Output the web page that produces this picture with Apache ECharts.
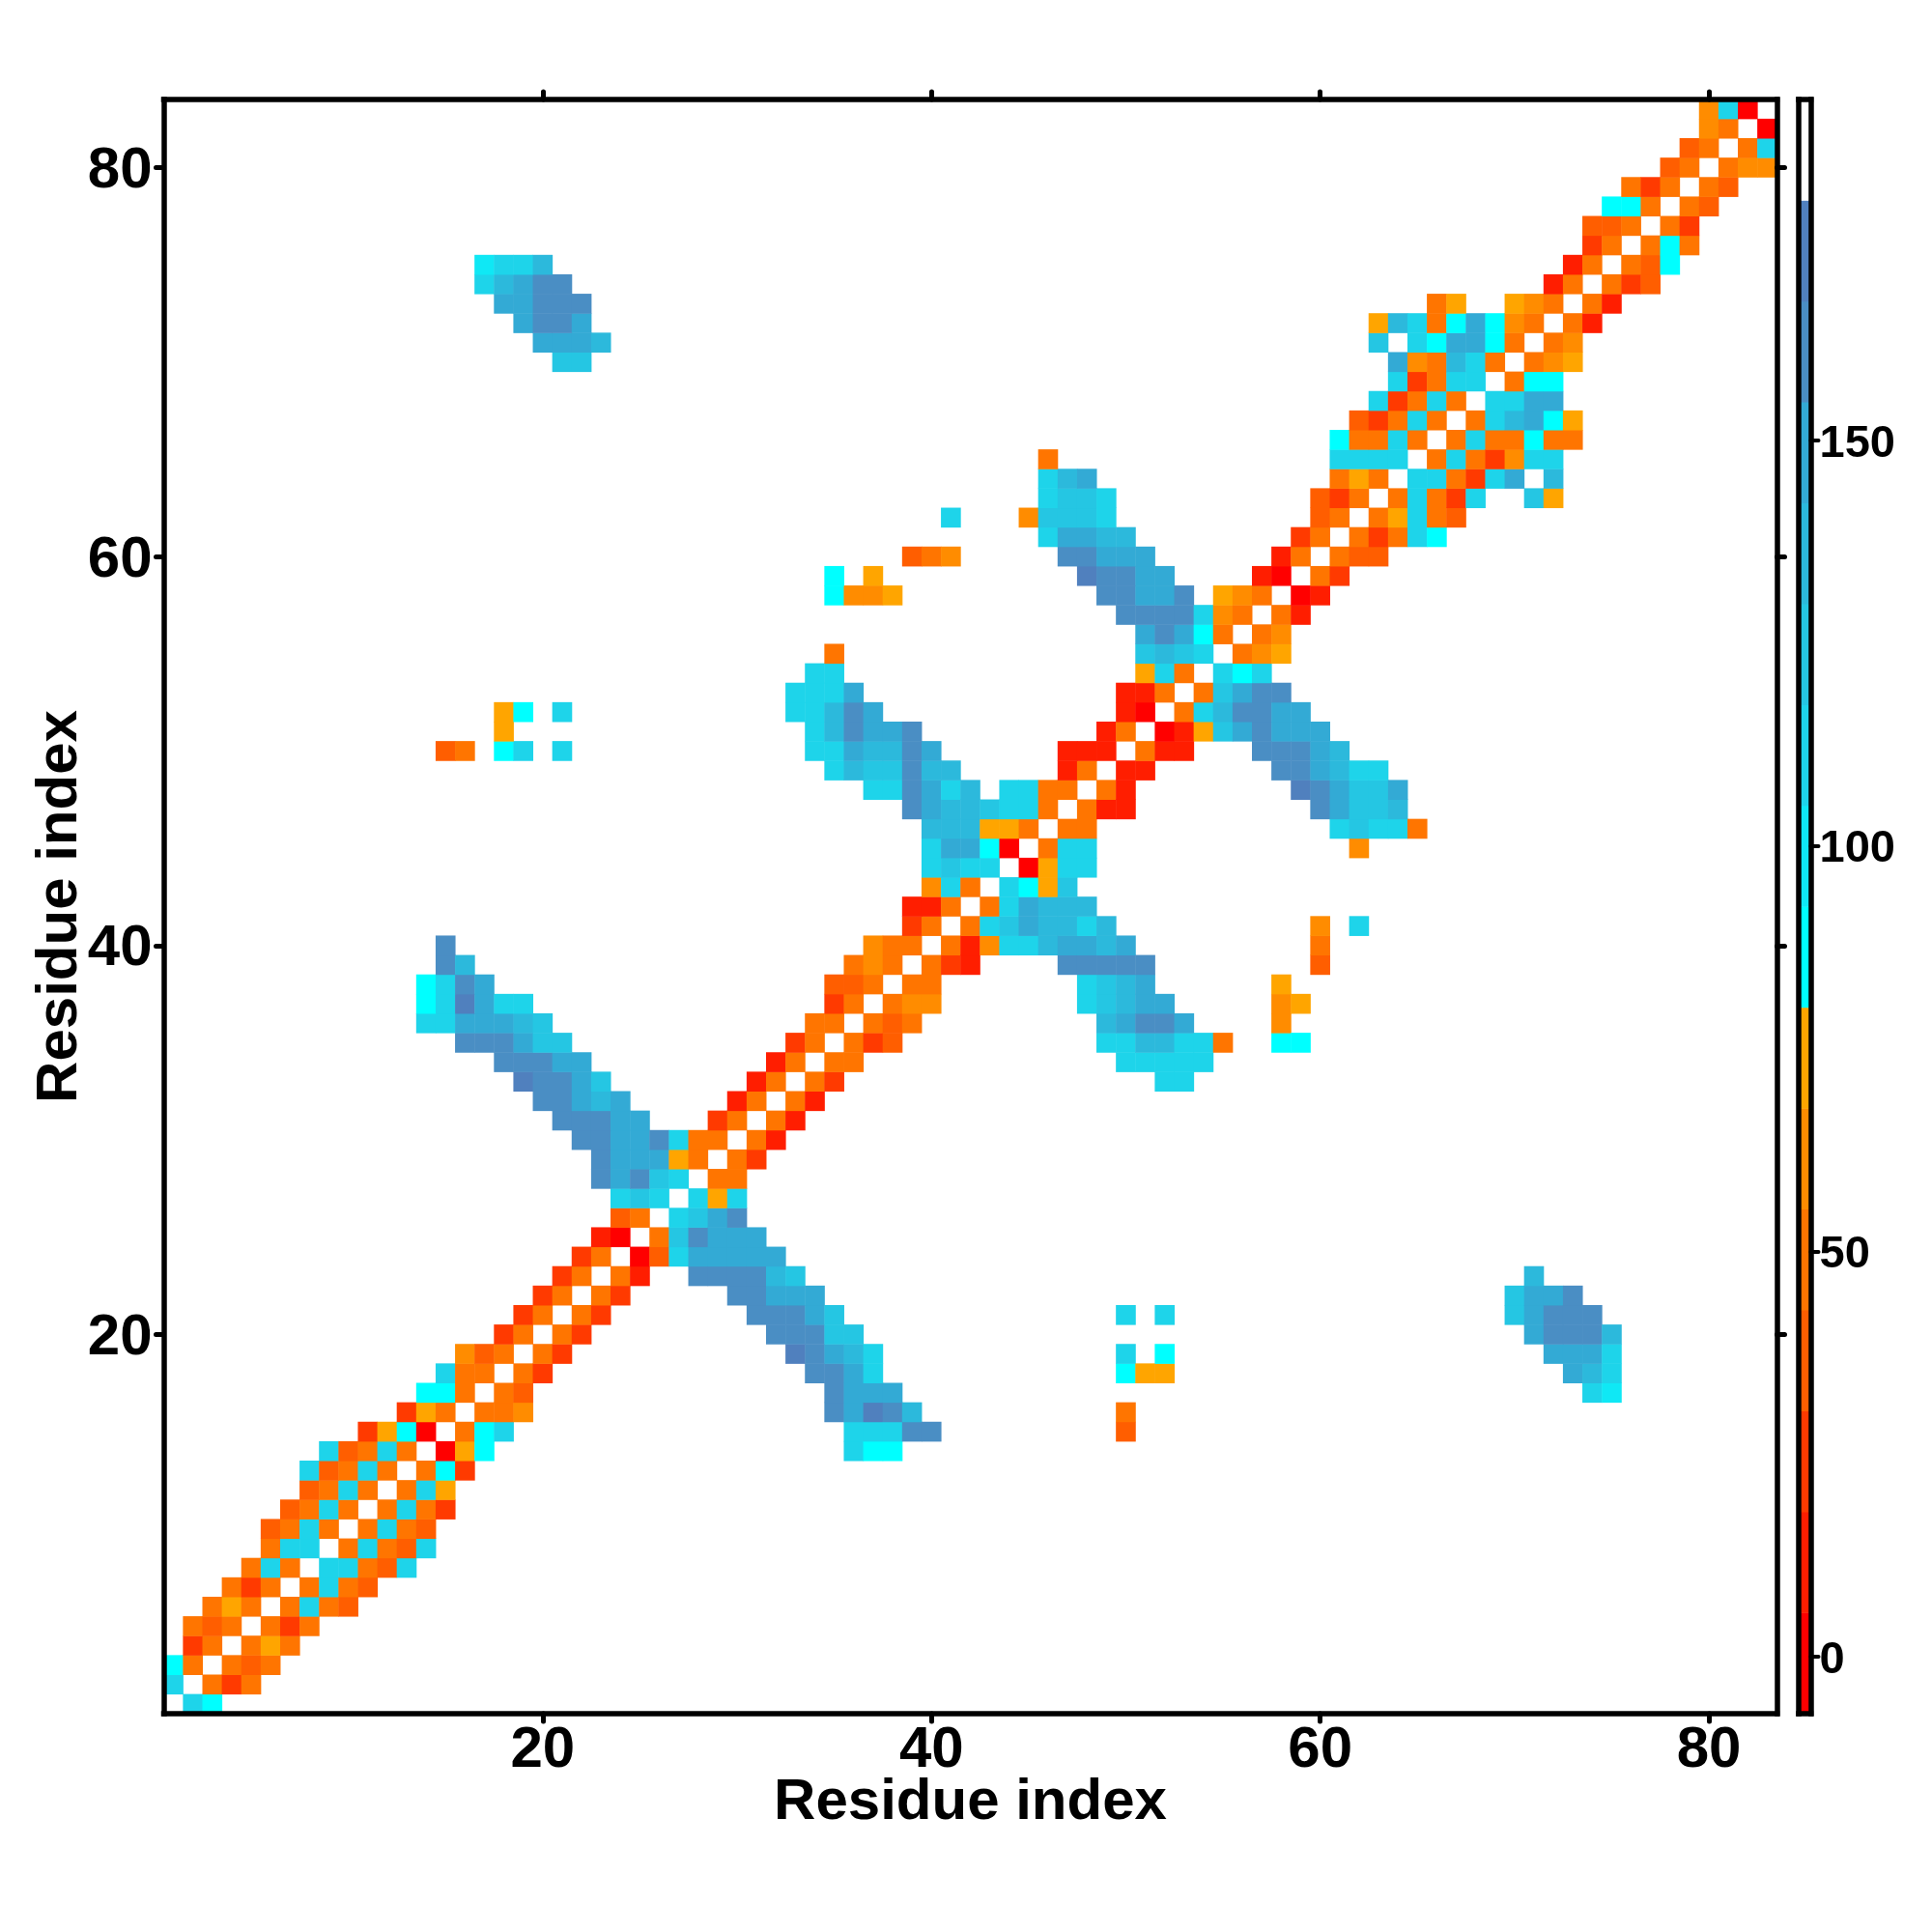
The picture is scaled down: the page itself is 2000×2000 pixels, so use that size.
<!DOCTYPE html>
<html>
<head>
<meta charset="utf-8">
<style>html,body{margin:0;padding:0;background:#fff}#c{width:2000px;height:2000px}</style>
<script src="https://cdn.jsdelivr.net/npm/echarts@6/dist/echarts.min.js"></script>
</head>
<body>
<div id="c"></div>
<script>
const residues = Array.from({length: 83}, (_, i) => String(i + 1));
const tickResidues = ['20', '40', '60', '80'];
const axisTitle = 'Residue index';
const barTicks = [0, 50, 100, 150];
const barMin = -7;
const barMax = 192;
// value at the middle of each of the 16 colour steps
const levelValues = [-1, 12, 24, 37, 49, 61, 74, 86, 99, 111, 124, 136, 149, 161, 174, 186];
const levelColors = ['#FF0000', '#FF1E00', '#FF3A00', '#FF5E00', '#FF7500', '#FF8C00', '#FFA500',
  '#00FFFF', '#0FE8F5', '#1ED4EA', '#25C6E3', '#2CB9DC', '#33AAD5', '#4A8EC4', '#5080BE', '#FFFFFF'];
const diagonalLevel = 15;
// symmetric matrix, lower-x half: one entry per row, "firstColumn:hexSteps" runs
const rowRuns = ['',
  '1:9','1:74','2:24','2:434','3:464','4:424','5:494','6:499','6:3494','7:3494',
  '8:3494','8:93494','9:93494','11:2670','13:264','14:774','15:944','16:534','18:24','19:24',
  '20:24','21:24','22:24','23:10','24:34','24:9a9','23:dcda9','23:dccc64','22:ddccd944',
  '21:dddcc 29:24','20:ddcbc 30:14','19:eddca 31:14','18:dddcc 32:14','16:dddcaa 33:24',
  '14:99cccba 34:44','14:79ec99 35:24','14:79dc 35:334','15:db 36:454','15:d 37:544',
  '39:24','39:114','40:594','40:9a99','40:9cc70','40:bbb664','39:dcbba994','37:99dc9b 44:9944',
  '35:9baadbb 47:14','15:34 18:79 21:9 34:99cbbdc 47:111','18:6 34:9bdccd 49:14',
  '18:67 21:9 33:99bdc 50:10','33:999c 50:114','34:99 51:694','35:4 51:aba9','51:cdc74',
  '50:dddd954','35:7556 49:ddccd 55:654','35:7 37:6 48:eddcc 57:10','39:345 47:ddccc 58:14',
  '46:9ccbb 59:24','41:9 45:5aaa9 60:34','46:9aa9 60:324','46:9bc 61:464','46:4 61:9999',
  '61:74494','62:32494','63:92494','64:92499','21:aa 64:c54b94','20:cccb 63:a 65:97cc74',
  '19:cddc 63:6b947c754','18:ccddd 66:46 70:654','17:9bcdd 72:14','17:899b 73:14',
  '74:24','74:334','75:774','76:424','78:34','79:34','80:54','80:590'];

const cells = [];
residues.forEach((_, i) => cells.push([i, i, levelValues[diagonalLevel]]));
rowRuns.forEach((text, y) => {
  text.split(' ').filter(Boolean).forEach((run) => {
    const [first, steps] = run.split(':');
    [...steps].forEach((ch, k) => {
      const x = Number(first) + k - 1, v = levelValues[parseInt(ch, 16)];
      cells.push([x, y, v]);
      cells.push([y, x, v]);
    });
  });
});
const barLevels = levelValues.map(String);
const barCells = levelValues.map((v, i) => [0, i, v]);

const FONT = 'Liberation Sans';
const frame = {show: true, onZero: false, lineStyle: {color: '#000', width: 5.5, cap: 'square'}};
const isTick = (i) => tickResidues.includes(residues[i]);
const tickStyle = {show: true, interval: isTick, alignWithLabel: true, length: 8, lineStyle: {color: '#000', width: 5, cap: 'round'}};
const labelStyle = {show: true, interval: isTick, color: '#000', fontFamily: FONT, fontWeight: 'bold', fontSize: 60};
const nameStyle = {color: '#000', fontFamily: FONT, fontWeight: 'bold', fontSize: 60};
const mainCat = (extra) => Object.assign({type: 'category', data: residues, gridIndex: 0, z: 10, axisLine: frame,
  axisTick: tickStyle, splitLine: {show: false}}, extra);
const barFrameX = (pos) => ({type: 'category', data: ['bar'], gridIndex: 1, position: pos, z: 10, axisLine: frame,
  axisTick: {show: false}, axisLabel: {show: false}, splitLine: {show: false}});

const option = {
  animation: false,
  backgroundColor: '#fff',
  grid: [
    {left: 169.5, right: 160.5, top: 103, bottom: 226},
    {left: 1862, right: 125.5, top: 103, bottom: 226}
  ],
  visualMap: {
    show: false, type: 'piecewise', dimension: 2, seriesIndex: [0, 1],
    pieces: levelValues.map((v, i) => ({min: v - 5, max: v + 5, color: levelColors[i]}))
  },
  xAxis: [
    mainCat({position: 'bottom', axisLabel: Object.assign({margin: 8}, labelStyle),
      name: axisTitle, nameLocation: 'middle', nameGap: 62.5, nameMoveOverlap: false, nameTextStyle: nameStyle}),
    mainCat({position: 'top', axisLabel: {show: false}}),
    barFrameX('bottom'),
    barFrameX('top')
  ],
  yAxis: [
    mainCat({position: 'left', axisLabel: Object.assign({margin: 12, verticalAlign: 'top', lineHeight: 8}, labelStyle),
      name: axisTitle, nameLocation: 'middle', nameGap: 77, nameMoveOverlap: false, nameRotate: 90, nameTextStyle: nameStyle}),
    mainCat({position: 'right', axisLabel: {show: false}}),
    {type: 'category', data: barLevels, gridIndex: 1, position: 'left', z: 10, axisLine: frame,
      axisTick: {show: false}, axisLabel: {show: false}, splitLine: {show: false}},
    {type: 'value', gridIndex: 1, position: 'right', min: barMin, max: barMax, z: 10, axisLine: frame,
      splitLine: {show: false},
      axisTick: {show: true, customValues: barTicks, length: 8, lineStyle: {color: '#000', width: 4, cap: 'round'}},
      axisLabel: {show: true, customValues: barTicks, margin: 9, verticalAlign: 'top', lineHeight: 8, color: '#000', fontFamily: FONT, fontWeight: 'bold', fontSize: 47,
        align: 'left'}}
  ],
  series: [
    {type: 'heatmap', xAxisIndex: 0, yAxisIndex: 0, data: cells, progressive: 0, emphasis: {disabled: true}, z: 2},
    {type: 'heatmap', xAxisIndex: 2, yAxisIndex: 2, data: barCells, progressive: 0, emphasis: {disabled: true}, z: 2}
  ]
};
const chart = echarts.init(document.getElementById('c'), null, {renderer: 'canvas', width: 2000, height: 2000});
chart.setOption(option);
</script>
</body>
</html>
